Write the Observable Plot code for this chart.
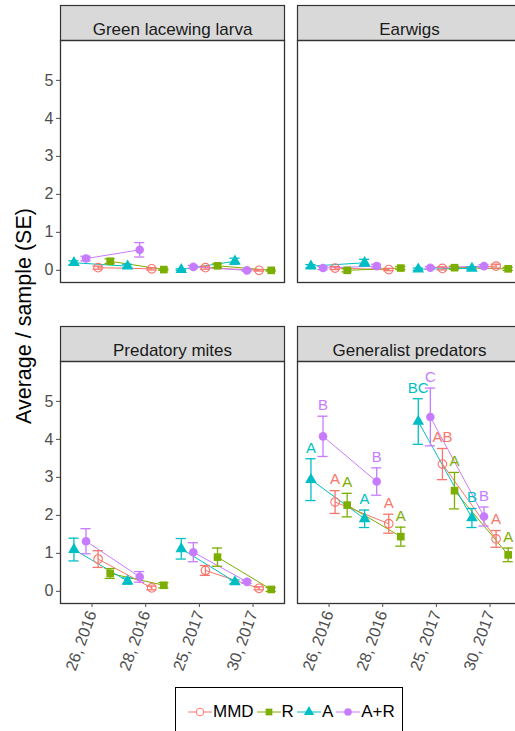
<!DOCTYPE html>
<html><head><meta charset="utf-8">
<script src="https://cdn.jsdelivr.net/npm/d3@7"></script>
<script src="https://cdn.jsdelivr.net/npm/@observablehq/plot@0.6"></script>
<style>
body{margin:0;overflow:hidden;background:#fff;font-family:"Liberation Sans",Arial,sans-serif;}
#wrap{position:relative;width:515px;height:731px;overflow:hidden;}
#wrap svg.plot{max-width:none;}
#legend{position:absolute;left:175px;top:687px;width:228px;height:50px;border:1.5px solid #000;box-sizing:border-box;display:flex;align-items:center;padding-left:12px;font-size:17px;color:#000;}
#legend .item{display:flex;align-items:center;}
#legend svg{margin-right:1px;}
#legend span{margin-right:3px;}
</style></head><body><div id="wrap"></div>
<script>
// ---- data ----
const treatments = ["MMD", "R", "A", "A+R"];
const colors = ["#F8766D", "#7CAE00", "#00BFC4", "#C77CFF"];
const dodgeOrder = ["A", "A+R", "MMD", "R"];
const dates = ["26, 2016", "28, 2016", "25, 2017", "30, 2017"];
const years = ["2016", "2016", "2017", "2017"];
const panels = ["Green lacewing larva", "Earwigs", "Predatory mites", "Generalist predators"];

// rows: MMD, R, A, A+R ; columns: the four dates
const lacewingMean = [[0.07, 0.04, 0.07, 0.00], [0.24, 0.02, 0.12, 0.00], [0.20, 0.11, 0.02, 0.24], [0.31, 0.54, 0.09, 0.00]];
const lacewingSE   = [[0.04, 0.03, 0.04, 0.02], [0.06, 0.02, 0.05, 0.02], [0.05, 0.05, 0.02, 0.08], [0.06, 0.19, 0.04, 0.02]];
const earwigMean   = [[0.06, 0.02, 0.05, 0.11], [0.00, 0.06, 0.07, 0.04], [0.11, 0.20, 0.03, 0.05], [0.06, 0.11, 0.07, 0.11]];
const earwigSE     = [[0.04, 0.03, 0.04, 0.05], [0.04, 0.04, 0.04, 0.04], [0.04, 0.09, 0.03, 0.04], [0.04, 0.05, 0.03, 0.04]];
const mitesMean    = [[0.85, 0.09, 0.55, 0.08], [0.47, 0.16, 0.90, 0.05], [1.10, 0.27, 1.12, 0.25], [1.32, 0.38, 1.03, 0.25]];
const mitesSE      = [[0.22, 0.05, 0.13, 0.04], [0.13, 0.07, 0.24, 0.05], [0.30, 0.08, 0.27, 0.05], [0.33, 0.14, 0.25, 0.04]];
const generalMean  = [[2.35, 1.78, 3.35, 1.38], [2.27, 1.44, 2.65, 0.96], [2.94, 1.91, 4.47, 1.93], [4.08, 2.89, 4.59, 1.97]];
const generalSE    = [[0.30, 0.25, 0.41, 0.22], [0.31, 0.25, 0.48, 0.18], [0.55, 0.23, 0.60, 0.25], [0.53, 0.36, 0.76, 0.25]];
const generalLetters = [["A", "A", "AB", "A"], ["A", "A", "A", "A"], ["A", "A", "BC", "B"], ["B", "B", "C", "B"]];

const yTicks = [0, 1, 2, 3, 4, 5];

// ---- layout ----
const W = 522, H = 680, mL = 59, mR = 0, mT = 40, mB = 77;
const panelW = 225, panelGapX = 12.7, panelH = 242, panelGapY = 79, stripH = 35;
const dodgeWidth = 0.9, capHalf = 0.095;

const allMean = [lacewingMean, earwigMean, mitesMean, generalMean];
const allSE = [lacewingSE, earwigSE, mitesSE, generalSE];
const rows = [];
panels.forEach((p, pi) => treatments.forEach((t, ti) => dates.forEach((d, di) => {
  const k = dodgeOrder.indexOf(t);
  const m = allMean[pi][ti][di], s = allSE[pi][ti][di];
  rows.push({
    panel: p, col: pi % 2, row: Math.floor(pi / 2), treatment: t,
    x: di + (k - 1.5) * dodgeWidth / 4, mean: m, lo: m - s, hi: m + s,
    group: t + years[di], letter: pi === 3 ? generalLetters[ti][di] : null
  });
})));
const strips = panels.map((p, i) => ({panel: p, col: i % 2, row: Math.floor(i / 2)}));
const letters = rows.filter(d => d.letter);

const fac = {fx: "col", fy: "row"};
const chart = Plot.plot({
  width: W, height: H,
  marginLeft: mL, marginRight: mR, marginTop: mT, marginBottom: mB,
  style: {fontFamily: "'Liberation Sans', Arial, sans-serif", fontSize: "16px", color: "#4d4d4d", maxWidth: "none", overflow: "visible"},
  x: {domain: [-0.588, 3.586], label: null},
  y: {domain: [-0.32, 6.05], label: null},
  fx: {domain: [0, 1], paddingInner: panelGapX / (panelW + panelGapX), paddingOuter: 0, axis: null},
  fy: {domain: [0, 1], paddingInner: panelGapY / (panelH + panelGapY), paddingOuter: 0, axis: null},
  color: {domain: treatments, range: colors},
  symbol: {domain: treatments, range: ["circle", "square", "triangle", "circle"]},
  marks: [
    Plot.frame({fill: "#d9d9d9", stroke: "#333", strokeWidth: 1.2, insetTop: -stripH, insetBottom: panelH}),
    Plot.text(strips, {...fac, text: "panel", frameAnchor: "top", dy: -stripH / 2, fontSize: 17, fill: "#1a1a1a"}),
    Plot.frame({stroke: "#333", strokeWidth: 1.3}),
    Plot.axisY({ticks: yTicks, tickFormat: d => String(d), tickSize: 4, tickPadding: 3, label: null, fontSize: 16}),
    Plot.axisX({ticks: [0, 1, 2, 3], tickFormat: i => dates[i], tickRotate: -70, tickSize: 4, tickPadding: 4, label: null, fontSize: 16}),
    Plot.line(rows, {...fac, x: "x", y: "mean", z: "group", stroke: "treatment", strokeWidth: 1}),
    Plot.ruleX(rows, {...fac, x: "x", y1: "lo", y2: "hi", stroke: "treatment", strokeWidth: 1.3}),
    Plot.ruleY(rows, {...fac, y: "hi", x1: d => d.x - capHalf, x2: d => d.x + capHalf, stroke: "treatment", strokeWidth: 1.3}),
    Plot.ruleY(rows, {...fac, y: "lo", x1: d => d.x - capHalf, x2: d => d.x + capHalf, stroke: "treatment", strokeWidth: 1.3}),
    Plot.dot(rows.filter(d => d.treatment !== "MMD"), {...fac, x: "x", y: "mean", symbol: "treatment", fill: "treatment", r: 4.3}),
    Plot.dot(rows.filter(d => d.treatment === "MMD"), {...fac, x: "x", y: "mean", symbol: "treatment", stroke: "treatment", fill: "none", strokeWidth: 1.1, r: 4.3}),
    Plot.text(letters, {...fac, x: "x", y: "hi", text: "letter", fill: "treatment", dy: -11, fontSize: 15})
  ]
});
chart.style.maxWidth = "none";
const wrap = document.getElementById("wrap");
wrap.appendChild(chart);

// y axis title
d3.select(chart).append("text")
  .attr("transform", "translate(24,316) rotate(-90)")
  .attr("text-anchor", "middle").attr("dominant-baseline", "central")
  .attr("fill", "#000").attr("font-size", 21.5)
  .text("Average / sample (SE)");

// legend
const leg = d3.select(wrap).append("div").attr("id", "legend");
const shapes = {circle: d3.symbolCircle, square: d3.symbolSquare, triangle: d3.symbolTriangle};
const symNames = ["circle", "square", "triangle", "circle"];
treatments.forEach((t, i) => {
  const it = leg.append("div").attr("class", "item");
  const s = it.append("svg").attr("width", 24).attr("height", 16);
  s.append("line").attr("x1", 0).attr("x2", 24).attr("y1", 8).attr("y2", 8).attr("stroke", colors[i]).attr("stroke-width", 1);
  s.append("path").attr("transform", "translate(12,8)")
    .attr("d", d3.symbol(shapes[symNames[i]], Math.PI * 3.8 * 3.8)())
    .attr("fill", t === "MMD" ? "#fff" : colors[i])
    .attr("stroke", t === "MMD" ? colors[i] : "none");
  it.append("span").text(t);
});
</script></body></html>
